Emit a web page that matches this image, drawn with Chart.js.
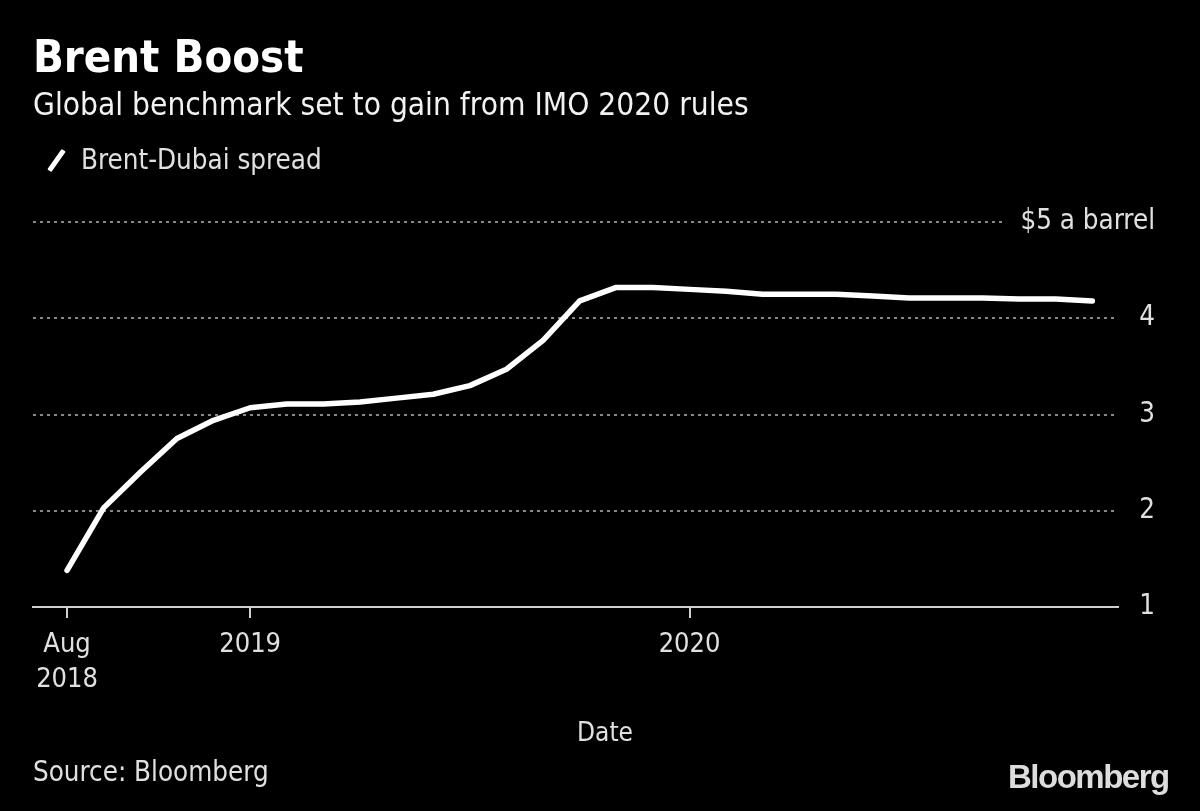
<!DOCTYPE html>
<html>
<head>
<meta charset="utf-8">
<script src="https://cdn.jsdelivr.net/npm/chart.js@4"></script>
<style>
  html, body { margin: 0; padding: 0; background: #000; }
  #wrap { position: relative; width: 1200px; height: 811px; background: #000; overflow: hidden;
          font-family: "DejaVu Sans Condensed", "DejaVu Sans", sans-serif; color: #e0e0e0; }
  #wrap canvas { position: absolute; left: 0; top: 0; }
  .txt { position: absolute; white-space: nowrap; }
  #title { left: 33px; top: 30px; font-size: 45px; font-weight: bold; color: #fff; }
  #subtitle { left: 33px; top: 86px; font-size: 31.4px; color: #f2f2f2; }
  #legend { left: 48px; top: 143px; font-size: 27.5px; color: #e0e0e0; }
  #legend i { display: inline-block; width: 5px; height: 25px; background: #fff; transform: rotate(35deg);
              vertical-align: -4px; margin: 0 22px 0 6px; border-radius: 1px; }
  #xtitle { left: 605px; top: 717px; font-size: 26px; transform: translateX(-50%); }
  #source { left: 33px; top: 755px; font-size: 27.5px; }
  #logo { left: 1008px; top: 758px; font-family: "Liberation Sans", Arial, sans-serif; font-weight: bold;
          font-size: 33px; letter-spacing: -1.5px; color: #ddd; }
</style>
</head>
<body>
<div id="wrap">
  <canvas id="brentChart" width="1200" height="811"></canvas>
  <div class="txt" id="title">Brent Boost</div>
  <div class="txt" id="subtitle">Global benchmark set to gain from IMO 2020 rules</div>
  <div class="txt" id="legend"><i></i>Brent-Dubai spread</div>
  <div class="txt" id="xtitle">Date</div>
  <div class="txt" id="source">Source: Bloomberg</div>
  <div class="txt" id="logo">Bloomberg</div>
</div>
<script>
// monthly, Aug 2018 .. Dec 2020
const months = ['2018-08','2018-09','2018-10','2018-11','2018-12',
  '2019-01','2019-02','2019-03','2019-04','2019-05','2019-06','2019-07','2019-08','2019-09','2019-10','2019-11','2019-12',
  '2020-01','2020-02','2020-03','2020-04','2020-05','2020-06','2020-07','2020-08','2020-09','2020-10','2020-11','2020-12'];
const spread = [1.38, 2.03, 2.40, 2.75, 2.94,
  3.07, 3.11, 3.11, 3.13, 3.17, 3.21, 3.30, 3.47, 3.77, 4.18, 4.32, 4.32,
  4.30, 4.28, 4.25, 4.25, 4.25, 4.23, 4.21, 4.21, 4.21, 4.20, 4.20, 4.18];

const xTickMonths = ['2018-08', '2019-01', '2020-01'];
const xTickText = [['Aug', '2018'], '2019', '2020'];
const yTicks = [1, 2, 3, 4, 5];
const yTickText = ['1', '2', '3', '4', '$5 a barrel'];

const points = spread.map((v, i) => ({ x: i, y: v }));
const font = "'DejaVu Sans Condensed', 'DejaVu Sans', sans-serif";

// y labels are drawn here so "$5 a barrel" can run left into the plot,
// and the dotted 5 line stops short of it
const yLabels = {
  id: 'yLabels',
  afterDraw(chart) {
    const sy = chart.scales.y;
    const ctx = chart.ctx;
    ctx.save();
    ctx.fillStyle = '#000';
    ctx.fillRect(1003, sy.getPixelForValue(5) - 3, chart.chartArea.right - 1003 + 2, 6);
    ctx.fillStyle = '#e0e0e0';
    ctx.font = "27.5px " + font;
    ctx.textAlign = 'right';
    ctx.textBaseline = 'middle';
    yTicks.forEach((v, i) => ctx.fillText(yTickText[i], sy.right, sy.getPixelForValue(v)));
    ctx.restore();
  }
};

new Chart('brentChart', {
  type: 'line',
  data: {
    datasets: [{
      label: 'Brent-Dubai spread',
      data: points,
      borderColor: '#fff',
      borderWidth: 5.5,
      borderCapStyle: 'round',
      borderJoinStyle: 'round',
      pointRadius: 0,
      tension: 0
    }]
  },
  plugins: [yLabels],
  options: {
    responsive: false,
    animation: false,
    layout: { padding: { left: 33, right: 45, top: 222, bottom: 0 } },
    plugins: { legend: { display: false }, title: { display: false }, tooltip: { enabled: false } },
    scales: {
      x: {
        type: 'linear',
        min: -0.93,
        max: 28.7,
        afterBuildTicks: s => { s.ticks = xTickMonths.map(m => ({ value: months.indexOf(m) })); },
        afterFit: s => { s.height = 204; },
        ticks: {
          color: '#e0e0e0',
          font: { family: font, size: 27, lineHeight: 1.3 },
          padding: 9,
          maxRotation: 0,
          callback: v => xTickText[xTickMonths.indexOf(months[v])]
        },
        grid: { drawOnChartArea: false, color: '#cfcfcf', lineWidth: 2, tickLength: 11 },
        border: { display: true, color: '#cfcfcf', width: 2 }
      },
      y: {
        position: 'right',
        min: 1,
        max: 5,
        afterBuildTicks: s => { s.ticks = yTicks.map(v => ({ value: v })); },
        afterFit: s => { s.width = 37; },
        ticks: { display: false },
        grid: {
          color: c => c.tick && c.tick.value === 1 ? 'rgba(0,0,0,0)' : '#888888',
          lineWidth: 2,
          drawTicks: false
        },
        border: { display: false, dash: [3, 4] }
      }
    }
  }
});
</script>
</body>
</html>
